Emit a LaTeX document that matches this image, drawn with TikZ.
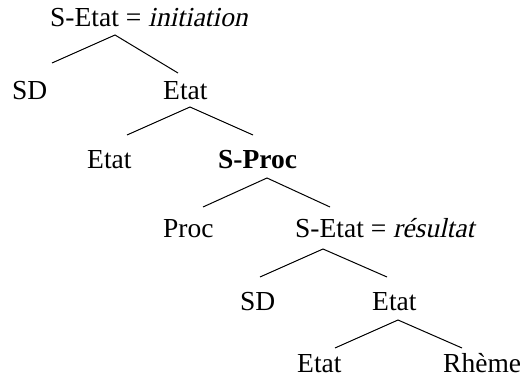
\documentclass[tikz,border=0pt]{standalone}
\usepackage{fontspec}
\setmainfont{Liberation Serif}
\newfontfamily\slantserif{Liberation Serif}[FakeSlant=0.22]
\newcommand{\sli}[1]{{\slantserif #1}}
\begin{document}
\begin{tikzpicture}[x=1pt,y=-1pt,
  lbl/.style={inner sep=0pt,anchor=base west,font=\fontsize{27.5}{33}\selectfont},
  branch/.style={line width=1pt,black}]
\useasboundingbox (0,0) rectangle (527,387);
% nodes
\node[lbl] (root) at (50,27) {S-Etat = \sli{initiation}};
\node[lbl] (sd1) at (12,100) {SD};
\node[lbl] (etat1) at (163,100) {Etat};
\node[lbl] (etat2) at (87,169) {Etat};
\node[lbl] (sproc) at (218,169) {\textbf{S-Proc}};
\node[lbl] (proc) at (163,238) {Proc};
\node[lbl] (setat) at (295,238) {S-Etat = \sli{résultat}};
\node[lbl] (sd2) at (240,310) {SD};
\node[lbl] (etat3) at (372,310) {Etat};
\node[lbl] (etat4) at (297,372) {Etat};
\node[lbl] (rheme) at (443,372) {Rhème};
% branch points
\coordinate (a1) at (115,35);
\coordinate (l1) at (52,63);
\coordinate (r1) at (178,73);
\coordinate (a2) at (190,107);
\coordinate (l2) at (127,135);
\coordinate (r2) at (253,135);
\coordinate (a3) at (267,178);
\coordinate (l3) at (203,207);
\coordinate (r3) at (330,207);
\coordinate (a4) at (323,249);
\coordinate (l4) at (260,277);
\coordinate (r4) at (387,277);
\coordinate (a5) at (398,320);
\coordinate (l5) at (335,348);
\coordinate (r5) at (462,348);
% branches
\draw[branch] (l1) -- (a1) -- (r1);
\draw[branch] (l2) -- (a2) -- (r2);
\draw[branch] (l3) -- (a3) -- (r3);
\draw[branch] (l4) -- (a4) -- (r4);
\draw[branch] (l5) -- (a5) -- (r5);
\end{tikzpicture}
\end{document}
